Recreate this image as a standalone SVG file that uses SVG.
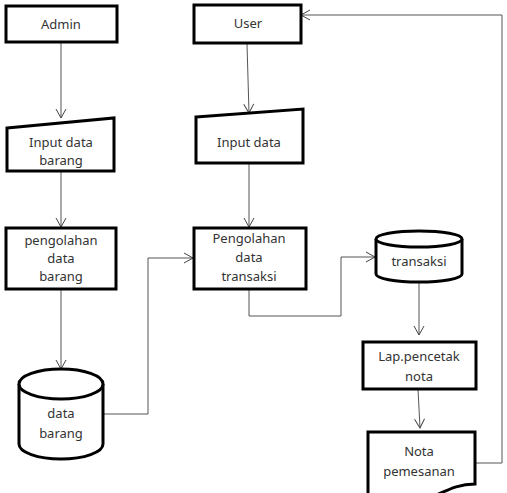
<svg xmlns="http://www.w3.org/2000/svg" width="507" height="493" viewBox="0 0 507 493">
<defs>
<style>
.n{fill:#fff;stroke:#000;stroke-width:3}
.t{font-family:"Noto Sans","Open Sans",sans-serif;font-size:13px;fill:#333;text-anchor:middle}
.c{fill:none;stroke:#555;stroke-width:1}
</style>
<marker id="a" markerWidth="12" markerHeight="12" refX="10" refY="6" orient="auto" markerUnits="userSpaceOnUse">
<path d="M1,1 L10,6 L1,11" fill="none" stroke="#444" stroke-width="1"/>
</marker>
</defs>
<rect width="507" height="493" fill="#fff"/>
<g id="connectors">
<line class="c" x1="61" y1="42" x2="61" y2="118" marker-end="url(#a)"/>
<line class="c" x1="61" y1="172" x2="61" y2="227" marker-end="url(#a)"/>
<line class="c" x1="61" y1="289" x2="61" y2="369" marker-end="url(#a)"/>
<polyline class="c" points="104,414 148,414 148,258 193,258" marker-end="url(#a)"/>
<line class="c" x1="247" y1="44" x2="249" y2="113" marker-end="url(#a)"/>
<line class="c" x1="249" y1="163" x2="249" y2="227" marker-end="url(#a)"/>
<polyline class="c" points="249,289 249,316 341,316 341,257 375,257" marker-end="url(#a)"/>
<line class="c" x1="419" y1="282" x2="419" y2="335" marker-end="url(#a)"/>
<line class="c" x1="418" y1="389" x2="420" y2="428" marker-end="url(#a)"/>
<polyline class="c" points="475,463 502,463 502,15 301,15" marker-end="url(#a)"/>
</g>
<g id="admin">
<rect class="n" x="6" y="6" width="111" height="36"/>
<text class="t" x="61" y="29">Admin</text>
</g>
<g id="input-data-barang">
<path class="n" d="M7,128 L114,118 L114,171 L7,171 Z"/>
<text class="t" x="61" y="147">Input data</text>
<text class="t" x="61" y="165">barang</text>
</g>
<g id="pengolahan-data-barang">
<rect class="n" x="6" y="228" width="110" height="61"/>
<text class="t" x="61" y="245">pengolahan</text>
<text class="t" x="61" y="263">data</text>
<text class="t" x="61" y="281">barang</text>
</g>
<g id="data-barang">
<path class="n" d="M19,384 L19,444 A42,15 0 0 0 103,444 L103,384"/>
<ellipse class="n" cx="61" cy="384" rx="42" ry="15"/>
<text class="t" x="61" y="418">data</text>
<text class="t" x="61" y="438">barang</text>
</g>
<g id="user">
<rect class="n" x="194" y="5" width="107" height="38"/>
<text class="t" x="248" y="28">User</text>
</g>
<g id="input-data">
<path class="n" d="M196,117 L303,109 L303,163 L196,163 Z"/>
<text class="t" x="249" y="147">Input data</text>
</g>
<g id="pengolahan-data-transaksi">
<rect class="n" x="194" y="228" width="112" height="61"/>
<text class="t" x="249" y="243">Pengolahan</text>
<text class="t" x="249" y="262">data</text>
<text class="t" x="249" y="281">transaksi</text>
</g>
<g id="transaksi">
<path class="n" d="M376,239 L376,274 A43,8 0 0 0 462,274 L462,239"/>
<ellipse class="n" cx="419" cy="239" rx="43" ry="8"/>
<text class="t" x="419" y="266">transaksi</text>
</g>
<g id="lap-pencetak-nota">
<rect class="n" x="363" y="342" width="113" height="47"/>
<text class="t" x="419" y="361">Lap.pencetak</text>
<text class="t" x="419" y="381">nota</text>
</g>
<g id="nota-pemesanan">
<path class="n" d="M368,432 L475,432 L475,484 C455,484 445,492 425,500 C405,506 385,506 368,502 Z"/>
<text class="t" x="419" y="456">Nota</text>
<text class="t" x="419" y="476">pemesanan</text>
</g>
</svg>
